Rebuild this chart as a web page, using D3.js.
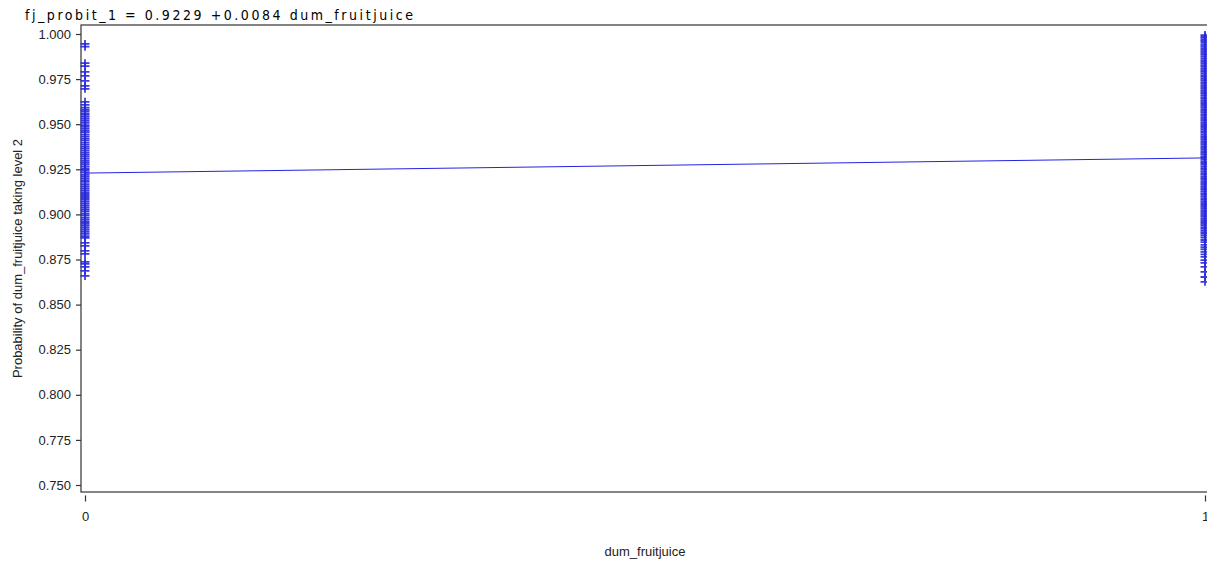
<!DOCTYPE html>
<html>
<head>
<meta charset="utf-8">
<script src="https://cdn.jsdelivr.net/npm/d3@7"></script>
<style>
  html, body { margin: 0; padding: 0; background: #fff; }
  svg { display: block; }
</style>
</head>
<body>
<svg id="chart" width="1207" height="561"></svg>
<script>
// Fitted probit line: probability = intercept + slope * dum_fruitjuice
const intercept = 0.9229;
const slope = 0.0084;

const xCategories = [0, 1];
const xTickLabels = ["0", "1"];
const yTicks = [0.750, 0.775, 0.800, 0.825, 0.850, 0.875, 0.900, 0.925, 0.950, 0.975, 1.000];

// Predicted probabilities for observations with dum_fruitjuice = 0
const probsGroup0 = [
  0.9945, 0.9930, 0.9838, 0.9822, 0.9790, 0.9768, 0.9740, 0.9712, 0.9696, 0.9624, 0.9607,
  0.9592, 0.9580, 0.9571, 0.9560, 0.9552, 0.9541, 0.9530, 0.9518, 0.9507, 0.9495,
  0.9486, 0.9474, 0.9463, 0.9455, 0.9442, 0.9431, 0.9420, 0.9410, 0.9398, 0.9387,
  0.9376, 0.9366, 0.9355, 0.9343, 0.9332, 0.9322, 0.9311, 0.9300, 0.9289, 0.9278,
  0.9266, 0.9255, 0.9246, 0.9234, 0.9222, 0.9212, 0.9201, 0.9190, 0.9180, 0.9168,
  0.9157, 0.9146, 0.9135, 0.9124, 0.9113, 0.9102, 0.9091, 0.9080, 0.9069, 0.9058,
  0.9047, 0.9036, 0.9025, 0.9015, 0.9003, 0.8993, 0.8981, 0.8970, 0.8958, 0.8948,
  0.8937, 0.8925, 0.8914, 0.8903, 0.8892, 0.8880, 0.8870,
  0.8842, 0.8825, 0.8798, 0.8781, 0.8737, 0.8726, 0.8709, 0.8687, 0.8659
];

// Predicted probabilities for observations with dum_fruitjuice = 1
const probsGroup1 = [
  0.9994, 0.9986, 0.9979, 0.9968, 0.9960, 0.9951, 0.9940, 0.9931, 0.9922, 0.9912,
  0.9903, 0.9894, 0.9884, 0.9875, 0.9865, 0.9855, 0.9846, 0.9837, 0.9827, 0.9818,
  0.9808, 0.9799, 0.9790, 0.9780, 0.9771, 0.9762, 0.9752, 0.9743, 0.9733, 0.9724,
  0.9714, 0.9705, 0.9696, 0.9686, 0.9677, 0.9668, 0.9658, 0.9649, 0.9640, 0.9630,
  0.9621, 0.9612, 0.9602, 0.9593, 0.9584, 0.9574, 0.9565, 0.9556, 0.9546, 0.9537,
  0.9528, 0.9518, 0.9509, 0.9500, 0.9490, 0.9481, 0.9472, 0.9462, 0.9453, 0.9444,
  0.9434, 0.9425, 0.9416, 0.9406, 0.9397, 0.9388, 0.9378, 0.9369, 0.9360, 0.9350,
  0.9341, 0.9332, 0.9322, 0.9313, 0.9304, 0.9294, 0.9285, 0.9276, 0.9266, 0.9257,
  0.9248, 0.9238, 0.9229, 0.9220, 0.9210, 0.9201, 0.9192, 0.9182, 0.9173, 0.9164,
  0.9154, 0.9145, 0.9136, 0.9126, 0.9117, 0.9108, 0.9098, 0.9089, 0.9080, 0.9070,
  0.9061, 0.9052, 0.9042, 0.9033, 0.9024, 0.9014, 0.9005, 0.8996, 0.8986, 0.8977,
  0.8968, 0.8958, 0.8949, 0.8940, 0.8930, 0.8921, 0.8912, 0.8902, 0.8893, 0.8884,
  0.8872, 0.8858, 0.8846, 0.8831, 0.8818, 0.8806, 0.8792, 0.8778,
  0.8764, 0.8747, 0.8731, 0.8709, 0.8681, 0.8653, 0.8626
];

const svg = d3.select("#chart");

const frame = { left: 81, top: 25, right: 1212, bottom: 492 };

const x = d3.scaleLinear().domain([0, 1]).range([85, 1205]);
const y = d3.scaleLinear().domain([0.750, 1.000]).range([485, 34]);

const markColor = "#2828dc";
const textColor = "#222";
const fontFamily = "'Liberation Sans', Arial, sans-serif";

// Title with the fitted equation
svg.append("text")
  .attr("x", 25)
  .attr("y", 19.5)
  .attr("font-family", "'DejaVu Sans Condensed', 'DejaVu Sans', sans-serif")
  .attr("font-size", 14)
  .attr("fill", "#000")
  .attr("textLength", 388)
  .attr("lengthAdjust", "spacing")
  .text(`fj_probit_1 = ${intercept.toFixed(4)} +${slope.toFixed(4)} dum_fruitjuice`);

// Plot frame
svg.append("rect")
  .attr("x", frame.left)
  .attr("y", frame.top)
  .attr("width", frame.right - frame.left)
  .attr("height", frame.bottom - frame.top)
  .attr("fill", "none")
  .attr("stroke", "#333")
  .attr("stroke-width", 1.2);

// Y axis
const yAxis = d3.axisLeft(y)
  .tickValues(yTicks)
  .tickFormat(d3.format(".3f"))
  .tickSize(5)
  .tickPadding(5);
const gy = svg.append("g")
  .attr("transform", `translate(${frame.left},0)`)
  .call(yAxis);
gy.select(".domain").remove();
gy.selectAll(".tick line").attr("stroke", "#333").attr("stroke-width", 1.2);
gy.selectAll(".tick text")
  .attr("font-family", fontFamily)
  .attr("font-size", 13)
  .attr("fill", textColor);

// X axis (ticks hang slightly below the frame)
const xAxis = d3.axisBottom(x)
  .tickValues(xCategories)
  .tickFormat((d, i) => xTickLabels[i])
  .tickSize(6)
  .tickPadding(10);
const gx = svg.append("g")
  .attr("transform", `translate(0,${frame.bottom + 3.5})`)
  .call(xAxis);
gx.select(".domain").remove();
gx.selectAll(".tick line").attr("stroke", "#333").attr("stroke-width", 1.2);
gx.selectAll(".tick text")
  .attr("font-family", fontFamily)
  .attr("font-size", 13)
  .attr("fill", textColor);

// Axis titles
svg.append("text")
  .attr("transform", `translate(22,${(frame.top + frame.bottom) / 2}) rotate(-90)`)
  .attr("text-anchor", "middle")
  .attr("font-family", fontFamily)
  .attr("font-size", 13)
  .attr("fill", textColor)
  .text("Probability of dum_fruitjuice taking level 2");

svg.append("text")
  .attr("x", (x(0) + x(1)) / 2)
  .attr("y", 556)
  .attr("text-anchor", "middle")
  .attr("font-family", fontFamily)
  .attr("font-size", 13)
  .attr("fill", textColor)
  .text("dum_fruitjuice");

// Plus markers for each observation
const points = [
  ...probsGroup0.map(p => ({ fj: 0, p })),
  ...probsGroup1.map(p => ({ fj: 1, p }))
];
const plusPath = "M-4.5,0H4.5M0,-4V4";
svg.append("g")
  .selectAll("path")
  .data(points)
  .join("path")
  .attr("transform", d => `translate(${x(d.fj)},${y(d.p)})`)
  .attr("d", plusPath)
  .attr("fill", "none")
  .attr("stroke", markColor)
  .attr("stroke-opacity", 0.9)
  .attr("stroke-width", 1.8);

// Fitted line
const line = d3.line().x(d => x(d)).y(d => y(intercept + slope * d));
svg.append("path")
  .datum(xCategories)
  .attr("d", line)
  .attr("fill", "none")
  .attr("stroke", "#2424e0")
  .attr("stroke-width", 1);
</script>
</body>
</html>
